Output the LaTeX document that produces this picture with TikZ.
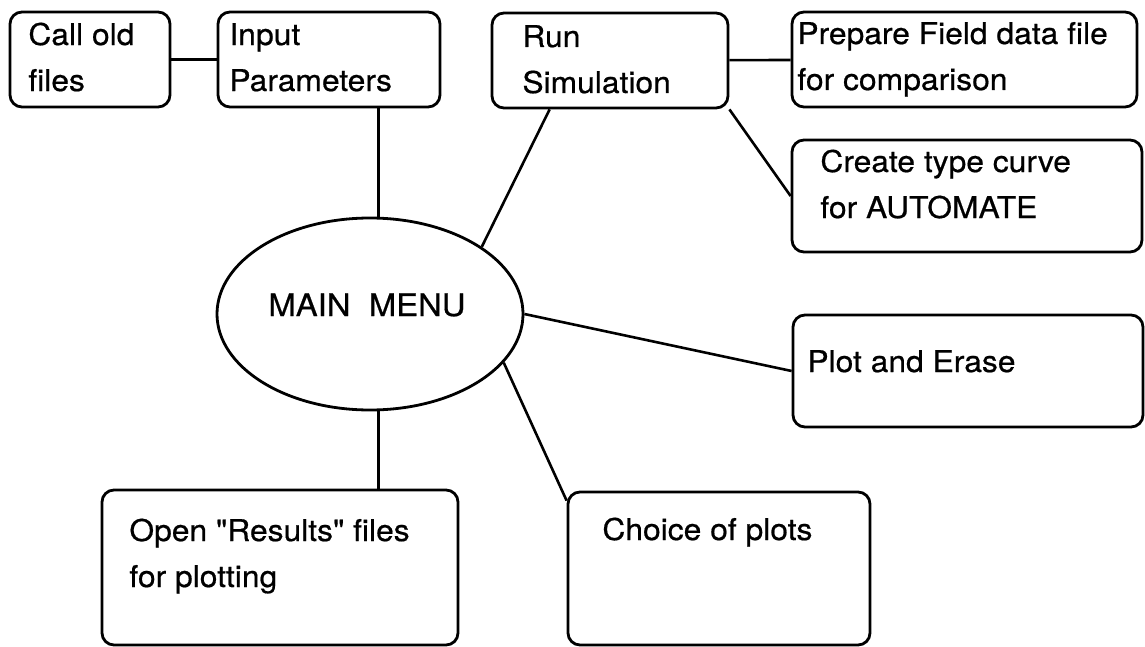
\documentclass[tikz,border=0pt]{standalone}
\usepackage{fontspec}
\setmainfont{TeX Gyre Heros}[FakeStretch=1.06, FakeBold=0.6, Ligatures=TeXOff]
\usetikzlibrary{shapes.geometric,fit}

\begin{document}
\begin{tikzpicture}[x=0.5pt, y=-0.5pt,
	menubox/.style={draw, line width=1.4pt, rounded corners=6pt, inner sep=0pt},
	hub/.style={draw, ellipse, line width=1.4pt, minimum width=153pt, minimum height=96pt, inner sep=0pt},
	lbl/.style={anchor=base west, align=left, inner sep=0pt, font=\fontsize{15pt}{23pt}\selectfont},
	link/.style={line width=1.3pt}]
		\useasboundingbox (0,0) rectangle (1145,647);

		% boxes
		\node[menubox, fit={(10,12) (170,107)}] (call) {};
		\node[menubox, fit={(218,12) (440,107)}] (input) {};
		\node[menubox, fit={(492,13) (728,108)}] (run) {};
		\node[menubox, fit={(792,12) (1137,107)}] (prep) {};
		\node[menubox, fit={(792,140) (1142,252)}] (create) {};
		\node[menubox, fit={(793,315) (1143,427)}] (plot) {};
		\node[menubox, fit={(102,490) (458,645)}] (open) {};
		\node[menubox, fit={(568,492) (870,645)}] (choice) {};
		\node[hub] (main) at (370,314) {};

		% texts (anchored at the baseline of the last line)
		\node[lbl] (call-t) at (28,91) {Call old\\files};
		\node[lbl] (input-t) at (229,91) {Input\\Parameters};
		\node[lbl] (run-t) at (522,93) {Run\\Simulation};
		\node[lbl] (prep-t) at (797,90) {Prepare Field data file\\for comparison};
		\node[lbl] (create-t) at (820,218) {Create type curve\\for AUTOMATE};
		\node[lbl] (plot-t) at (807,372) {Plot and Erase};
		\node[lbl] (open-t) at (129,587) {Open "Results" files\\for plotting};
		\node[lbl] (choice-t) at (602,540) {Choice of plots};
		\node[lbl, font=\fontsize{15.5pt}{18pt}\selectfont] (main-t) at (268,316) {MAIN~~MENU};

		% connectors
		\draw[link] (call) -- (input);
		\draw[link] (run) -- (prep);
		\draw[link] (run.south east) -- (create.west);
		\draw[link] (run.219) -- (main.31);
		\draw[link] (main.85) -- (main.85 |- input.south);
		\draw[link] (main.east) -- (plot.west);
		\draw[link] (main.-20) -- ([yshift=-5pt]choice.north west);
		\draw[link] (main.275) -- (main.275 |- open.north);
	\end{tikzpicture}
\end{document}
